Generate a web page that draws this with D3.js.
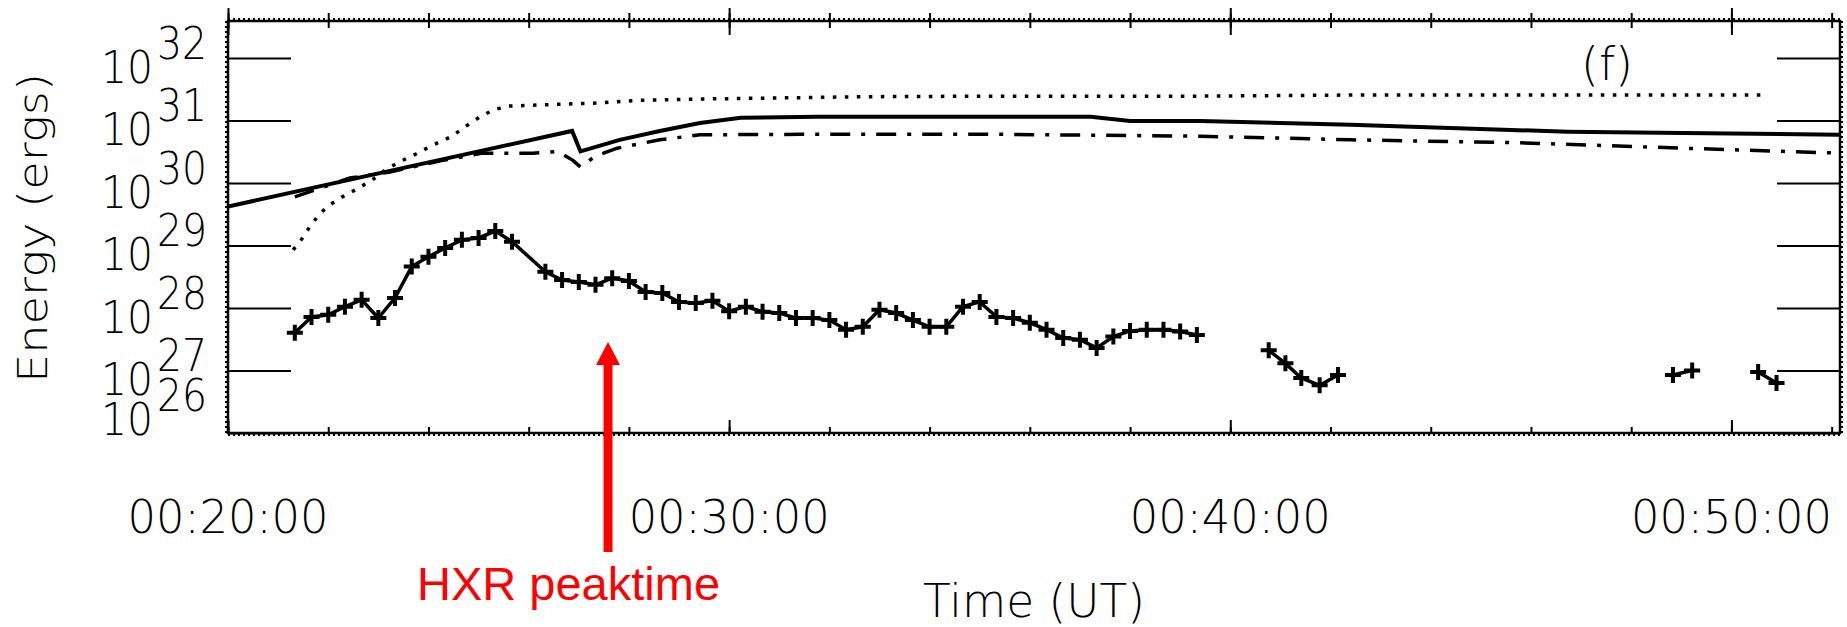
<!DOCTYPE html>
<html>
<head>
<meta charset="utf-8">
<script src="https://cdn.jsdelivr.net/npm/d3@7"></script>
<style>
body { margin: 0; background: #fff; }
svg { display: block; }
.lbl { font-family: "DejaVu Sans", sans-serif; font-weight: 200; fill: #000; }
</style>
</head>
<body>
<svg id="chart" width="1847" height="627"></svg>
<script>
// thermal / non-thermal energy curves (time UT, energy in ergs)
var solidTimes = ["00:20:00","00:26:52","00:27:02","00:27:49","00:28:37","00:29:25","00:30:14","00:31:46","00:37:13","00:38:00","00:39:24","00:42:24","00:44:23","00:46:44","00:49:02","00:52:10"];
var solidEnergy = [4.2e29,6.8e30,3.2e30,4.9e30,6.8e30,9.1e30,1.1e31,1.15e31,1.15e31,9.8e30,9.8e30,8.5e30,7.6e30,6.6e30,6.3e30,5.9e30];

var dottedTimes = ["00:21:18","00:21:29","00:21:38","00:21:48","00:22:00","00:22:17","00:22:33","00:22:52","00:23:08","00:23:26","00:23:45","00:24:03","00:24:27","00:24:45","00:25:02","00:25:19","00:25:38","00:26:29","00:27:22","00:28:13","00:29:25","00:32:45","00:35:25","00:39:24","00:42:24","00:50:44"];
var dottedEnergy = [8.5e28,1.3e29,2.0e29,3.0e29,4.3e29,6.0e29,7.8e29,1.1e30,1.6e30,2.2e30,2.9e30,3.9e30,5.5e30,8.1e30,1.15e31,1.5e31,1.7e31,1.8e31,1.9e31,2.1e31,2.2e31,2.4e31,2.45e31,2.45e31,2.55e31,2.55e31];

var dashDotTimes = ["00:21:20","00:22:26","00:23:14","00:24:17","00:25:05","00:26:05","00:26:35","00:26:53","00:27:02","00:27:20","00:27:46","00:28:37","00:29:25","00:31:25","00:35:25","00:39:24","00:42:24","00:45:44","00:49:02","00:52:10"];
var dashDotEnergy = [6.0e29,1.2e30,1.5e30,2.3e30,3.0e30,3.0e30,3.2e30,2.3e30,1.8e30,2.7e30,3.6e30,4.9e30,5.9e30,6.0e30,6.0e30,5.6e30,4.9e30,4.4e30,3.6e30,3.0e30];

// plus-marked curve, null = data gap
var hxrTimes = ["00:21:20","00:21:40","00:22:00","00:22:20","00:22:40","00:23:00","00:23:20","00:23:40","00:24:00","00:24:20","00:24:40","00:25:00","00:25:20","00:25:40","00:26:20","00:26:40","00:27:00","00:27:20","00:27:40","00:28:00","00:28:20","00:28:40","00:29:00","00:29:20","00:29:40","00:30:00","00:30:20","00:30:40","00:31:00","00:31:20","00:31:40","00:32:00","00:32:20","00:32:40","00:33:00","00:33:20","00:33:40","00:34:00","00:34:20","00:34:40","00:35:00","00:35:20","00:35:40","00:36:00","00:36:20","00:36:40","00:37:00","00:37:20","00:37:40","00:38:00","00:38:20","00:38:40","00:39:00","00:39:20","00:40:00","00:40:46","00:41:06","00:41:25","00:41:47","00:42:09","00:45:00","00:48:50","00:49:13","00:50:00","00:50:32","00:50:54"];
var hxrEnergy = [4.0e27,7.2e27,7.8e27,1.05e28,1.35e28,6.9e27,1.45e28,4.6e28,6.6e28,9.1e28,1.23e29,1.32e29,1.7e29,1.15e29,3.8e28,2.8e28,2.6e28,2.35e28,3.0e28,2.7e28,1.8e28,1.74e28,1.25e28,1.2e28,1.3e28,8.9e27,1.05e28,8.7e27,8.3e27,6.9e27,6.9e27,6.4e27,4.5e27,5.0e27,9.4e27,8.3e27,6.4e27,5.0e27,5.0e27,1.05e28,1.25e28,7.2e27,6.9e27,5.8e27,4.5e27,3.3e27,3.1e27,2.3e27,3.5e27,4.3e27,4.5e27,4.5e27,4.2e27,3.7e27,null,2.1e27,1.3e27,7.6e26,5.8e26,8.5e26,null,8.5e26,1.0e27,null,9.5e26,6.3e26];

var timeDomain = ["00:20:00","00:52:10"];
var energyDomain = [1e26, 3.9e32];
var yExponents = [26,27,28,29,30,31,32];
var peakTime = "00:27:35";

var parseT = d3.utcParse("%H:%M:%S");
var fmtT = d3.utcFormat("%H:%M:%S");

var plotL = 228, plotR = 1840, plotT = 21, plotB = 433;

var svg = d3.select("#chart");

var x = d3.scaleUtc()
    .domain(timeDomain.map(parseT))
    .range([plotL, plotR]);

var y = d3.scaleLog()
    .domain(energyDomain)
    .range([plotB, plotT]);

function zip(ts, es) {
    return ts.map(function(t, i) { return {t: parseT(t), e: es[i]}; });
}

svg.append("clipPath").attr("id", "plotclip")
    .append("rect")
    .attr("x", plotL).attr("y", plotT)
    .attr("width", plotR - plotL).attr("height", plotB - plotT);

var line = d3.line()
    .defined(d => d.e != null)
    .x(d => x(d.t))
    .y(d => y(d.e));

var curves = svg.append("g").attr("clip-path", "url(#plotclip)");

curves.append("path")
    .datum(zip(dottedTimes, dottedEnergy))
    .attr("d", line)
    .attr("fill", "none")
    .attr("stroke", "#000")
    .attr("stroke-width", 3.5)
    .attr("stroke-dasharray", "3.5,8.5");

curves.append("path")
    .datum(zip(dashDotTimes, dashDotEnergy))
    .attr("d", line)
    .attr("fill", "none")
    .attr("stroke", "#000")
    .attr("stroke-width", 3.5)
    .attr("stroke-dasharray", "20,11,4,11");

curves.append("path")
    .datum(zip(solidTimes, solidEnergy))
    .attr("d", line)
    .attr("fill", "none")
    .attr("stroke", "#000")
    .attr("stroke-width", 4);

var hxr = zip(hxrTimes, hxrEnergy);
curves.append("path")
    .datum(hxr)
    .attr("d", line)
    .attr("fill", "none")
    .attr("stroke", "#000")
    .attr("stroke-width", 3.5);

curves.selectAll("path.plus")
    .data(hxr.filter(d => d.e != null))
    .enter()
    .append("path")
    .attr("class", "plus")
    .attr("d", "M-8,0H8M0,-8V8")
    .attr("transform", d => "translate(" + x(d.t) + "," + y(d.e) + ")")
    .attr("stroke", "#000")
    .attr("stroke-width", 4);

// ticks
function clean(g) {
    g.select(".domain").remove();
    g.selectAll(".tick line").attr("stroke", "#000").attr("stroke-width", 2);
}

svg.append("g")
    .attr("transform", "translate(0," + plotB + ")")
    .call(d3.axisBottom(x).ticks(d3.utcMinute.every(2)).tickSize(-6).tickFormat(""))
    .call(clean);
svg.append("g")
    .attr("transform", "translate(0," + plotB + ")")
    .call(d3.axisBottom(x).ticks(d3.utcMinute.every(10)).tickSize(-13).tickFormat(""))
    .call(clean);
svg.append("g")
    .attr("transform", "translate(0," + plotT + ")")
    .call(d3.axisTop(x).ticks(d3.utcMinute.every(2)).tickSize(8).tickFormat(""))
    .call(clean);
svg.append("g")
    .attr("transform", "translate(0," + plotT + ")")
    .call(d3.axisTop(x).ticks(d3.utcMinute.every(2)).tickSize(-7).tickFormat(""))
    .call(clean);
svg.append("g")
    .attr("transform", "translate(0," + plotT + ")")
    .call(d3.axisTop(x).ticks(d3.utcMinute.every(10)).tickSize(13).tickFormat(""))
    .call(clean);
svg.append("g")
    .attr("transform", "translate(0," + plotT + ")")
    .call(d3.axisTop(x).ticks(d3.utcMinute.every(10)).tickSize(-14).tickFormat(""))
    .call(clean);

var decades = yExponents.map(k => Math.pow(10, k));
svg.append("g")
    .attr("transform", "translate(" + plotL + ",0)")
    .call(d3.axisLeft(y).tickValues(decades).tickSize(-63).tickFormat(""))
    .call(clean);
svg.append("g")
    .attr("transform", "translate(" + plotR + ",0)")
    .call(d3.axisRight(y).tickValues(decades).tickSize(-63).tickFormat(""))
    .call(clean);

// frame + rough edge texture
svg.append("rect")
    .attr("x", plotL).attr("y", plotT)
    .attr("width", plotR - plotL).attr("height", plotB - plotT)
    .attr("fill", "none")
    .attr("stroke", "#000")
    .attr("stroke-width", 2.5);

var edges = [[plotL, plotB + 2, plotR, plotB + 2], [plotL, plotT - 2, plotR, plotT - 2],
             [plotL - 2, plotT, plotL - 2, plotB], [plotR + 2, plotT, plotR + 2, plotB]];
svg.selectAll("line.edge")
    .data(edges)
    .enter()
    .append("line")
    .attr("class", "edge")
    .attr("x1", d => d[0]).attr("y1", d => d[1])
    .attr("x2", d => d[2]).attr("y2", d => d[3])
    .attr("stroke", "#000")
    .attr("stroke-width", 2)
    .attr("stroke-dasharray", "2,3");

// y tick labels: 10^k
var ylab = svg.append("g");
yExponents.forEach(function(k) {
    var yy = y(Math.pow(10, k));
    var shift = k === 26 ? -23 : 0;
    ylab.append("text")
        .attr("class", "lbl")
        .attr("x", plotL - 75)
        .attr("y", yy + 25 + shift)
        .attr("text-anchor", "end")
        .attr("font-size", 44)
        .attr("textLength", 52)
        .attr("lengthAdjust", "spacingAndGlyphs")
        .text("10");
    ylab.append("text")
        .attr("class", "lbl")
        .attr("x", plotL - 71)
        .attr("y", yy + 1 + shift)
        .attr("font-size", 44)
        .attr("textLength", 50)
        .attr("lengthAdjust", "spacingAndGlyphs")
        .text(k);
});

// x tick labels
svg.append("g")
    .selectAll("text")
    .data(x.ticks(d3.utcMinute.every(10)))
    .enter()
    .append("text")
    .attr("class", "lbl")
    .attr("x", d => x(d))
    .attr("y", 533)
    .attr("text-anchor", "middle")
    .attr("font-size", 47)
    .attr("textLength", 201)
    .attr("lengthAdjust", "spacingAndGlyphs")
    .text(d => fmtT(d));

// axis titles
svg.append("text")
    .attr("class", "lbl")
    .attr("x", (plotL + plotR) / 2)
    .attr("y", 617)
    .attr("text-anchor", "middle")
    .attr("font-size", 47)
    .attr("textLength", 222)
    .attr("lengthAdjust", "spacingAndGlyphs")
    .text("Time  (UT)");

svg.append("text")
    .attr("class", "lbl")
    .attr("transform", "translate(47,228) rotate(-90)")
    .attr("text-anchor", "middle")
    .attr("font-size", 41)
    .attr("textLength", 310)
    .attr("lengthAdjust", "spacingAndGlyphs")
    .text("Energy  (ergs)");

svg.append("text")
    .attr("class", "lbl")
    .attr("x", 1607)
    .attr("y", 80)
    .attr("text-anchor", "middle")
    .attr("font-size", 46)
    .text("(f)");

// HXR peak annotation
var xp = x(parseT(peakTime));
var red = "#ff0000";
svg.append("rect")
    .attr("x", xp - 4.5).attr("y", 362)
    .attr("width", 9).attr("height", 552 - 362)
    .attr("fill", red);
svg.append("path")
    .attr("d", "M" + xp + ",342L" + (xp + 12) + ",365L" + (xp - 12) + ",365Z")
    .attr("fill", red);
svg.append("text")
    .attr("x", xp - 191)
    .attr("y", 600)
    .attr("font-family", "'Liberation Sans', Arial, sans-serif")
    .attr("font-size", 47)
    .attr("fill", red)
    .text("HXR peaktime");
</script>
</body>
</html>
